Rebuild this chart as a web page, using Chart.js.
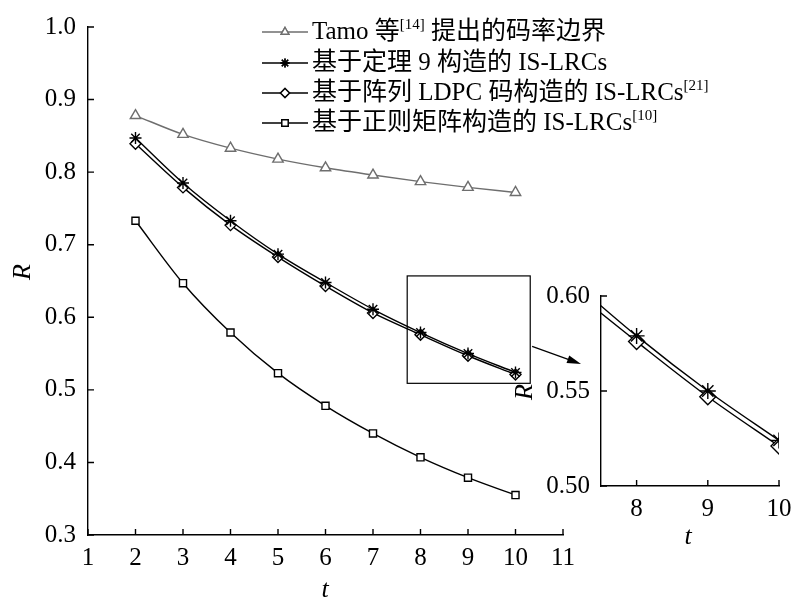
<!DOCTYPE html>
<html lang="zh">
<head>
  <meta charset="UTF-8">
  <title>IS-LRCs 码率比较</title>
  <script src="https://cdn.jsdelivr.net/npm/chart.js"></script>
  <style>
    html, body { margin: 0; padding: 0; background: #fff; }
    #wrap { position: relative; width: 800px; height: 606px; }
    #mainChart { position: absolute; left: 0; top: 0; }
    #insetChart { position: absolute; left: 500px; top: 270px; }
  </style>
</head>
<body>
  <div id="wrap">
    <canvas id="mainChart" width="800" height="606"></canvas>
    <canvas id="insetChart" width="300" height="300"></canvas>
  </div>

  <script>
    // data
    const tValues = [2, 3, 4, 5, 6, 7, 8, 9, 10];
    const tamoBound = [0.878, 0.852, 0.833, 0.818, 0.806, 0.796, 0.787, 0.779, 0.772];
    const thm9 = [0.847, 0.785, 0.733, 0.687, 0.648, 0.611, 0.579, 0.550, 0.524];
    const arrayLdpc = [0.839, 0.779, 0.727, 0.683, 0.643, 0.606, 0.576, 0.547, 0.521];
    const regularMatrix = [0.733, 0.647, 0.579, 0.523, 0.478, 0.440, 0.407, 0.379, 0.355];

    const mainXTicks = [1, 2, 3, 4, 5, 6, 7, 8, 9, 10, 11];
    const mainYTicks = [0.3, 0.4, 0.5, 0.6, 0.7, 0.8, 0.9, 1.0];
    const insetXTicks = [8, 9, 10];
    const insetYTicks = [0.50, 0.55, 0.60];

    const legendItems = [
      { parts: [['Tamo 等', false], ['[14]', true], [' 提出的码率边界', false]] },
      { parts: [['基于定理 9 构造的 IS-LRCs', false]] },
      { parts: [['基于阵列 LDPC 码构造的 IS-LRCs', false], ['[21]', true]] },
      { parts: [['基于正则矩阵构造的 IS-LRCs', false], ['[10]', true]] }
    ];

    // zoom box and arrow in main-chart data units
    const zoomBox = { x0: 7.72, x1: 10.31, y0: 0.509, y1: 0.657 };
    const arrow = { x0: 10.35, y0: 0.560, x1: 11.38, y1: 0.5356 };

    const SERIF = '"Liberation Serif", "Noto Sans CJK SC", serif';
    const GREY = '#6e6e6e';

    const pts = (ys, from) => tValues.map((t, i) => ({ x: t, y: ys[i] })).filter(p => p.x >= (from || 0));

    function series(label, ys, color, style, radius, from) {
      return {
        label, data: pts(ys, from),
        borderColor: color, backgroundColor: 'rgba(0,0,0,0)',
        borderWidth: 1.4, pointStyle: style, pointRadius: radius,
        pointBorderColor: color, pointBorderWidth: 1.4,
        pointBackgroundColor: '#fff',
        cubicInterpolationMode: 'monotone'
      };
    }

    // ticks pointing inwards
    const innerTicks = {
      id: 'innerTicks',
      afterDraw(chart) {
        const { ctx, chartArea: a, scales: { x, y } } = chart;
        ctx.save();
        ctx.strokeStyle = '#000';
        ctx.lineWidth = 1.4;
        ctx.beginPath();
        x.ticks.forEach(t => {
          const px = x.getPixelForValue(t.value);
          ctx.moveTo(px, a.bottom); ctx.lineTo(px, a.bottom - 6);
        });
        y.ticks.forEach(t => {
          const py = y.getPixelForValue(t.value);
          ctx.moveTo(a.left, py); ctx.lineTo(a.left + 6, py);
        });
        ctx.stroke();
        ctx.restore();
      }
    };

    function axisTitles(xPos, yPos) {
      return {
        id: 'axisTitles',
        afterDraw(chart) {
          const ctx = chart.ctx;
          ctx.save();
          ctx.fillStyle = '#000';
          ctx.font = 'italic 26px ' + SERIF;
          ctx.textAlign = 'center';
          ctx.textBaseline = 'middle';
          ctx.fillText('t', xPos[0], xPos[1]);
          ctx.translate(yPos[0], yPos[1]);
          ctx.rotate(-Math.PI / 2);
          ctx.fillText('R', 0, 0);
          ctx.restore();
        }
      };
    }

    const extras = {
      id: 'extras',
      afterDraw(chart) {
        const { ctx, scales: { x, y } } = chart;
        ctx.save();
        // zoom box
        ctx.strokeStyle = '#000';
        ctx.lineWidth = 1.2;
        const bx0 = x.getPixelForValue(zoomBox.x0), bx1 = x.getPixelForValue(zoomBox.x1);
        const by0 = y.getPixelForValue(zoomBox.y1), by1 = y.getPixelForValue(zoomBox.y0);
        ctx.strokeRect(bx0, by0, bx1 - bx0, by1 - by0);
        // arrow
        const ax0 = x.getPixelForValue(arrow.x0), ay0 = y.getPixelForValue(arrow.y0);
        const ax1 = x.getPixelForValue(arrow.x1), ay1 = y.getPixelForValue(arrow.y1);
        const ang = Math.atan2(ay1 - ay0, ax1 - ax0);
        ctx.beginPath();
        ctx.moveTo(ax0, ay0);
        ctx.lineTo(ax1 - 10 * Math.cos(ang), ay1 - 10 * Math.sin(ang));
        ctx.stroke();
        ctx.fillStyle = '#000';
        ctx.beginPath();
        ctx.moveTo(ax1, ay1);
        ctx.lineTo(ax1 - 14 * Math.cos(ang) + 4 * Math.sin(ang), ay1 - 14 * Math.sin(ang) - 4 * Math.cos(ang));
        ctx.lineTo(ax1 - 14 * Math.cos(ang) - 4 * Math.sin(ang), ay1 - 14 * Math.sin(ang) + 4 * Math.cos(ang));
        ctx.closePath();
        ctx.fill();

        // legend
        const rows = [32, 63, 93, 123];
        chart.data.datasets.forEach((ds, i) => {
          const ry = rows[i];
          ctx.strokeStyle = ds.borderColor;
          ctx.lineWidth = 1.4;
          ctx.beginPath();
          ctx.moveTo(262, ry); ctx.lineTo(308, ry);
          ctx.stroke();
          ctx.fillStyle = '#fff';
          Chart.helpers.drawPoint(ctx, {
            pointStyle: ds.pointStyle, radius: 4.5, rotation: 0, borderWidth: 1.4
          }, 285, ry);
          ctx.fill();
          ctx.stroke();
          let tx = 312;
          ctx.fillStyle = '#000';
          ctx.textAlign = 'left';
          legendItems[i].parts.forEach(([txt, sup]) => {
            ctx.font = (sup ? '15px ' : '25px ') + SERIF;
            ctx.textBaseline = 'middle';
            ctx.fillText(txt, tx, sup ? ry - 7 : ry);
            tx += ctx.measureText(txt).width;
          });
        });
        ctx.restore();
      }
    };

    new Chart(document.getElementById('mainChart'), {
      type: 'line',
      data: {
        datasets: [
          series('Tamo', tamoBound, GREY, 'triangle', 6),
          series('thm9', thm9, '#000', 'star', 6),
          series('ldpc', arrayLdpc, '#000', 'rectRot', 5.5),
          series('regular', regularMatrix, '#000', 'rect', 5)
        ]
      },
      options: {
        responsive: false,
        animation: false,
        layout: { padding: { top: 15, right: 237, left: 0, bottom: 0 } },
        plugins: { legend: { display: false }, tooltip: { enabled: false } },
        scales: {
          x: {
            type: 'linear', min: 1, max: 11,
            afterBuildTicks: s => { s.ticks = mainXTicks.map(v => ({ value: v })); },
            afterFit: s => { s.height = 71; },
            grid: { display: false, drawTicks: false },
            border: { display: true, color: '#000', width: 1.4 },
            ticks: { color: '#000', font: { family: SERIF, size: 25 }, padding: 8 }
          },
          y: {
            type: 'linear', min: 0.3, max: 1.0,
            afterBuildTicks: s => { s.ticks = mainYTicks.map(v => ({ value: v })); },
            afterFit: s => { s.width = 88; },
            grid: { display: false, drawTicks: false },
            border: { display: true, color: '#000', width: 1.4 },
            ticks: { color: '#000', font: { family: SERIF, size: 25 }, padding: 12,
                     callback: v => v.toFixed(1) }
          }
        }
      },
      plugins: [innerTicks, axisTitles([325, 590], [23, 272]), extras]
    });

    new Chart(document.getElementById('insetChart'), {
      type: 'line',
      data: {
        datasets: [
          series('thm9', thm9, '#000', 'star', 8, 7),
          series('ldpc', arrayLdpc, '#000', 'rectRot', 8, 7)
        ]
      },
      options: {
        responsive: false,
        animation: false,
        layout: { padding: { top: 25, right: 21, left: 0, bottom: 0 } },
        plugins: { legend: { display: false }, tooltip: { enabled: false } },
        scales: {
          x: {
            type: 'linear', min: 7.5, max: 10,
            afterBuildTicks: s => { s.ticks = insetXTicks.map(v => ({ value: v })); },
            afterFit: s => { s.height = 84; },
            grid: { display: false, drawTicks: false },
            border: { display: true, color: '#000', width: 1.4 },
            ticks: { color: '#000', font: { family: SERIF, size: 25 }, padding: 8 }
          },
          y: {
            type: 'linear', min: 0.5, max: 0.6,
            afterBuildTicks: s => { s.ticks = insetYTicks.map(v => ({ value: v })); },
            afterFit: s => { s.width = 101; },
            grid: { display: false, drawTicks: false },
            border: { display: true, color: '#000', width: 1.4 },
            ticks: { color: '#000', font: { family: SERIF, size: 25 }, padding: 11,
                     callback: v => v.toFixed(2) }
          }
        }
      },
      plugins: [innerTicks, axisTitles([188, 267], [25, 122])]
    });
  </script>
</body>
</html>
